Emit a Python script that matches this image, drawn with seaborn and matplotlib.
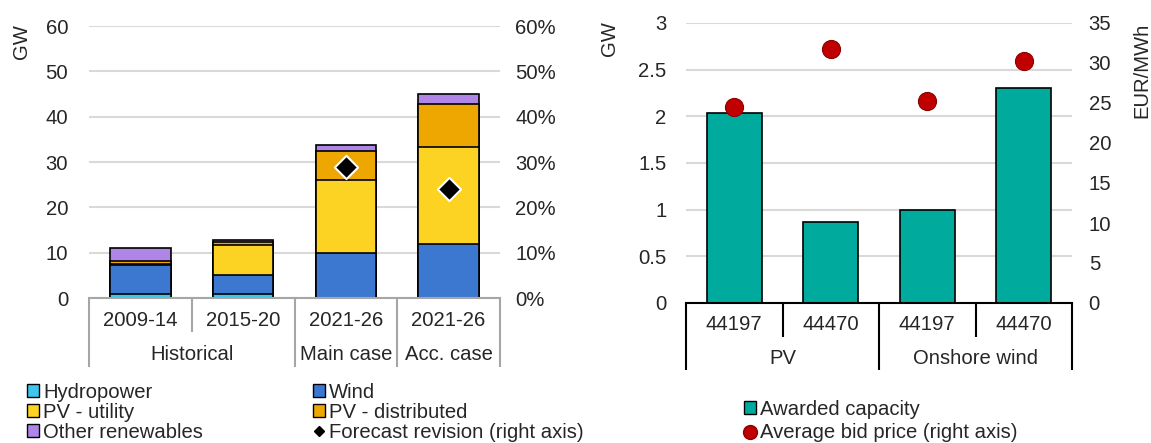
import matplotlib
matplotlib.use("Agg")
import matplotlib.pyplot as plt
import numpy as np
import pandas as pd
import seaborn as sns
from matplotlib.patches import Patch
from matplotlib.lines import Line2D
from matplotlib.ticker import FuncFormatter

# ---- Left panel: average annual capacity additions (GW) ----
periods = ["2009-14", "2015-20", "2021-26", "2021-26"]
period_groups = ["Historical", "Main case", "Acc. case"]
group_spans = [(0, 1), (2, 2), (3, 3)]
hydropower = [0.8, 0.9, 0.0, 0.0]
wind = [6.4, 4.1, 10.0, 11.9]
pv_utility = [0.3, 6.7, 16.1, 21.5]
pv_distributed = [0.6, 0.7, 6.4, 9.4]
other_renewables = [3.0, 0.4, 1.2, 2.3]
forecast_revision = [np.nan, np.nan, 0.29, 0.24]

# ---- Right panel: auction results ----
auction_rounds = ["44197", "44470", "44197", "44470"]
technologies = ["PV", "Onshore wind"]
tech_spans = [(0, 1), (2, 3)]
awarded_capacity = [2.04, 0.87, 1.00, 2.30]
bid_price = [24.5, 31.7, 25.3, 30.3]

sns.set_theme(style="white")
plt.rcParams["font.family"] = ["Liberation Sans", "DejaVu Sans"]
FS = 14.6
plt.rcParams["font.size"] = FS

W, H = 1151, 443
fig = plt.figure(figsize=(W / 100, H / 100), dpi=100)

def px_axes(x0, x1, ytop, ybot):
    return fig.add_axes([x0 / W, (H - ybot) / H, (x1 - x0) / W, (ybot - ytop) / H])

C_HYDRO = "#3EC6EE"
C_WIND = "#3C78D0"
C_PVU = "#FCD323"
C_PVD = "#EEA700"
C_OTHER = "#AF85E8"
C_TEAL = "#00AB9E"
C_RED = "#C00000"
GRID = "#D9D9D9"

# ================= Left panel =================
ax = px_axes(89, 500, 26, 298)
layers = [hydropower, wind, pv_utility, pv_distributed, other_renewables]
colors = [C_HYDRO, C_WIND, C_PVU, C_PVD, C_OTHER]
cum = np.cumsum(np.array(layers, dtype=float), axis=0)
slots = list(range(len(periods)))
for i in range(len(layers) - 1, -1, -1):
    df = pd.DataFrame({"slot": slots, "value": cum[i]})
    sns.barplot(data=df, x="slot", y="value", order=slots, color=colors[i],
                saturation=1, width=0.59, edgecolor="black", linewidth=1.2, ax=ax)

ax.set_xlim(-0.5, len(periods) - 0.5)
ax.set_ylim(0, 60)
ax.set_yticks(range(0, 61, 10))
ax.yaxis.grid(True, color=GRID, linewidth=1.5)
ax.set_axisbelow(True)
ax.set_xticks([])
ax.set_xlabel("")
ax.set_ylabel("")
ax.tick_params(axis="y", length=0, pad=15, labelsize=FS)
for s in ["left", "right", "top"]:
    ax.spines[s].set_visible(False)
ax.spines["bottom"].set_color("#A6A6A6")
ax.spines["bottom"].set_linewidth(1.5)

ax2 = ax.twinx()
dfr = pd.DataFrame({"slot": slots, "rev": forecast_revision}).dropna()
sns.scatterplot(data=dfr, x="slot", y="rev", marker="D", s=140, color="black",
                edgecolor="white", linewidth=1.5, ax=ax2, legend=False, zorder=5)
ax2.set_ylim(0, 0.6)
ax2.set_yticks(np.arange(0, 0.61, 0.1))
ax2.yaxis.set_major_formatter(FuncFormatter(lambda v, p: f"{v * 100:.0f}%"))
ax2.tick_params(axis="y", length=0, pad=11, labelsize=FS)
ax2.set_ylabel("")
for s in ax2.spines.values():
    s.set_visible(False)
ax2.set_xlim(-0.5, len(periods) - 0.5)

# Two-level category axis
trL = ax.get_xaxis_transform()
hL = 272.0
row1_lab, row1_bot, row2_lab, row2_bot = -22 / hL, -34 / hL, -56 / hL, -69 / hL
for i, lab in enumerate(periods):
    ax.text(i, row1_lab, lab, transform=trL, ha="center", va="center", fontsize=FS)
for lab, (a, b) in zip(period_groups, group_spans):
    ax.text((a + b) / 2, row2_lab, lab, transform=trL, ha="center", va="center", fontsize=FS)
group_edges = {-0.5, 1.5, 2.5, 3.5}
for xe in np.arange(-0.5, len(periods), 1.0):
    bottom = row2_bot if xe in group_edges else row1_bot
    ax.plot([xe, xe], [0.0, bottom], transform=trL, color="#A6A6A6", lw=1.5,
            clip_on=False, solid_capstyle="butt")

fig.text(22 / W, 1 - 42 / H, "GW", rotation=90, ha="center", va="center", fontsize=FS)

def sq(c):
    return Patch(facecolor=c, edgecolor="black", linewidth=1.0)

leg_kw = dict(frameon=False, fontsize=FS, handlelength=0.6, handleheight=0.6,
              handletextpad=0.2, labelspacing=0.05, borderpad=0, borderaxespad=0)
fig.legend([sq(C_HYDRO), sq(C_PVU), sq(C_OTHER)],
           ["Hydropower", "PV - utility", "Other renewables"],
           loc="upper left", bbox_to_anchor=(27 / W, 1 - 383 / H), **leg_kw)
fig.legend([sq(C_WIND), sq(C_PVD),
            Line2D([], [], marker="D", color="black", linestyle="none", markersize=5)],
           ["Wind", "PV - distributed", "Forecast revision (right axis)"],
           loc="upper left", bbox_to_anchor=(313 / W, 1 - 383 / H), **leg_kw)

# ================= Right panel =================
bx = px_axes(686, 1072, 23, 303)
rslots = list(range(len(auction_rounds)))
dfa = pd.DataFrame({"slot": rslots, "cap": awarded_capacity})
sns.barplot(data=dfa, x="slot", y="cap", order=rslots, color=C_TEAL, saturation=1,
            width=0.57, edgecolor="black", linewidth=1.2, ax=bx)
bx.set_xlim(-0.5, len(auction_rounds) - 0.5)
bx.set_ylim(0, 3)
bx.set_yticks(np.arange(0, 3.01, 0.5))
bx.yaxis.set_major_formatter(FuncFormatter(lambda v, p: f"{v:g}"))
bx.yaxis.grid(True, color=GRID, linewidth=1.5)
bx.set_axisbelow(True)
bx.set_xticks([])
bx.set_xlabel("")
bx.set_ylabel("")
bx.tick_params(axis="y", length=0, pad=14, labelsize=FS)
for s in ["left", "right", "top"]:
    bx.spines[s].set_visible(False)
bx.spines["bottom"].set_color("black")
bx.spines["bottom"].set_linewidth(1.5)

bx2 = bx.twinx()
dfp = pd.DataFrame({"slot": rslots, "price": bid_price})
sns.scatterplot(data=dfp, x="slot", y="price", marker="o", s=170, color=C_RED,
                edgecolor="#8B0000", linewidth=0.8, ax=bx2, legend=False, zorder=5)
bx2.set_ylim(0, 35)
bx2.set_yticks(range(0, 36, 5))
bx2.tick_params(axis="y", length=0, pad=12, labelsize=FS)
bx2.set_ylabel("")
for s in bx2.spines.values():
    s.set_visible(False)
bx2.set_xlim(-0.5, len(auction_rounds) - 0.5)

trR = bx.get_xaxis_transform()
hR = 280.0
r1_lab, r1_bot, r2_lab, r2_bot = -21 / hR, -34 / hR, -55 / hR, -67 / hR
for i, lab in enumerate(auction_rounds):
    bx.text(i, r1_lab, lab, transform=trR, ha="center", va="center", fontsize=FS)
for lab, (a, b) in zip(technologies, tech_spans):
    bx.text((a + b) / 2, r2_lab, lab, transform=trR, ha="center", va="center", fontsize=FS)
tech_edges = {-0.5, 1.5, 3.5}
for xe in np.arange(-0.5, len(auction_rounds), 1.0):
    bottom = r2_bot if xe in tech_edges else r1_bot
    bx.plot([xe, xe], [0.0, bottom], transform=trR, color="black", lw=1.5,
            clip_on=False, solid_capstyle="butt")

fig.text(609 / W, 1 - 39 / H, "GW", rotation=90, ha="center", va="center", fontsize=FS)
fig.text(1142 / W, 1 - 70 / H, "EUR/MWh", rotation=90, ha="center", va="center", fontsize=FS)

fig.legend([sq(C_TEAL),
            Line2D([], [], marker="o", color=C_RED, markeredgecolor="#8B0000",
                   linestyle="none", markersize=10)],
           ["Awarded capacity", "Average bid price (right axis)"],
           loc="upper left", bbox_to_anchor=(744 / W, 1 - 400 / H),
           **{**leg_kw, "labelspacing": 0.22})

fig.savefig("out.png", dpi=100)
